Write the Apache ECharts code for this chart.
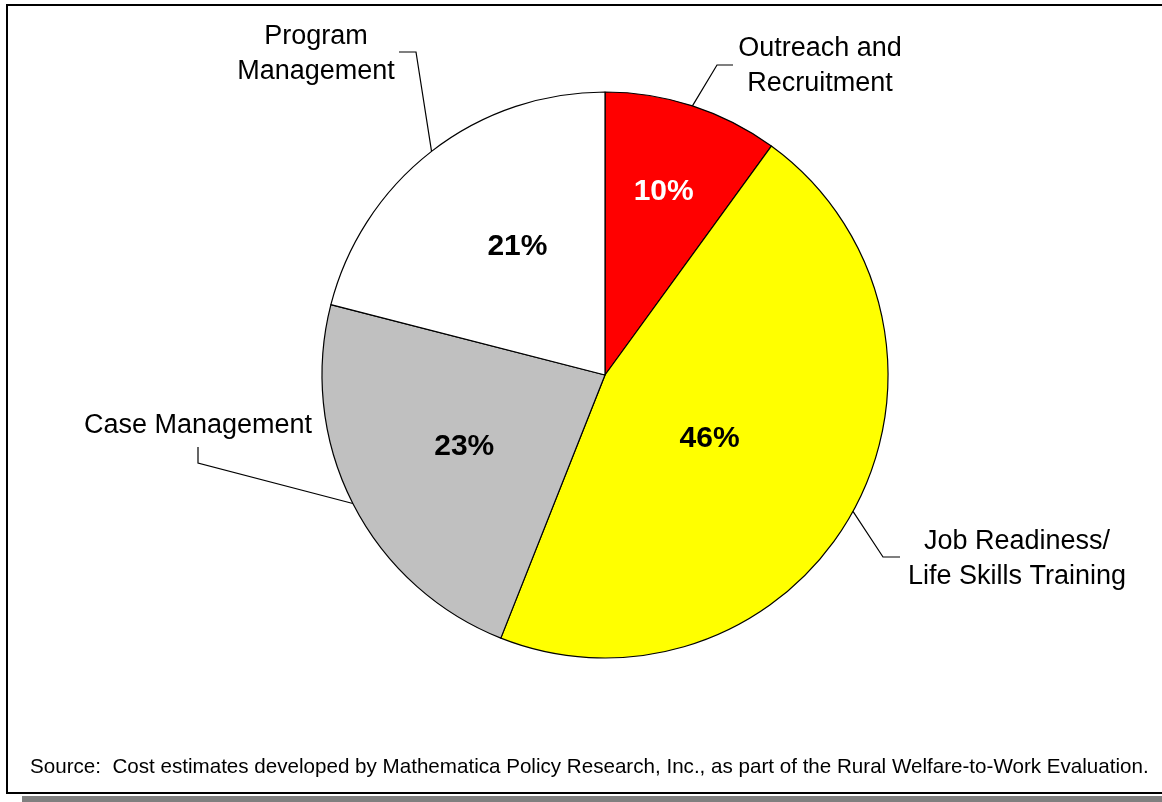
<!DOCTYPE html>
<html>
<head>
<meta charset="utf-8">
<script src="https://cdn.jsdelivr.net/npm/echarts@6/dist/echarts.min.js"></script>
<style>
html,body{margin:0;padding:0;background:#fff;}
#chart{width:1162px;height:802px;}
</style>
</head>
<body>
<div id="chart"></div>
<script>
// ---- data ----
var categories = ['Outreach and\nRecruitment', 'Job Readiness/\nLife Skills Training', 'Case Management', 'Program\nManagement'];
var shares = [10, 46, 23, 21];
var sliceColors = ['#FF0000', '#FFFF00', '#C0C0C0', '#FFFFFF'];
var pctColors = ['#FFFFFF', '#000000', '#000000', '#000000'];
var sourceNote = 'Source:  Cost estimates developed by Mathematica Policy Research, Inc., as part of the Rural Welfare-to-Work Evaluation.';

// ---- layout (positions, not data) ----
var FONT = '"Liberation Sans", Arial, sans-serif';
var pieCenter = [605, 375];
var pieRadius = 283;
// offsets of percent labels from default inside position
var pctOffsets = [[14, -46], [-22, -6], [-12, 6], [1, -14]];
// outer label centres and leader line bend/end points
var outerLabelPos = [[820, 66], [1017, 559], [198, 426], [316, 54]];
var leaderBend = [[[717, 65], [733, 65]], [[883, 557], [900, 557]], [[198, 463], [198, 447]], [[416, 52], [399, 52]]];

var sliceData = categories.map(function (c, i) {
  return { name: c, value: shares[i], itemStyle: { color: sliceColors[i] },
           label: { color: pctColors[i] } };
});
var outerData = categories.map(function (c, i) {
  return { name: c, value: shares[i] };
});

var chart = echarts.init(document.getElementById('chart'), null, { renderer: 'canvas' });
chart.setOption({
  backgroundColor: '#fff',
  animation: false,
  graphic: [
    { type: 'rect', shape: { x: 22, y: 796, width: 1140, height: 6 }, style: { fill: '#808080' }, z: 0 },
    { type: 'rect', shape: { x: 7, y: 5, width: 1160, height: 788 }, style: { fill: '#fff', stroke: '#000', lineWidth: 2 }, z: 0 },
    { type: 'text', x: 30, y: 767, style: { text: sourceNote, font: '20.6px ' + FONT, fill: '#000', verticalAlign: 'middle' }, z: 10 }
  ],
  series: [
    {
      type: 'pie',
      center: pieCenter,
      radius: pieRadius,
      startAngle: 90,
      clockwise: true,
      silent: true,
      z: 2,
      itemStyle: { borderColor: '#000', borderWidth: 1.2 },
      label: {
        show: true, position: 'inside',
        formatter: function (p) { return p.value + '%'; },
        fontFamily: FONT, fontSize: 30, fontWeight: 'bold'
      },
      labelLine: { show: false },
      labelLayout: function (p) {
        var o = pctOffsets[p.dataIndex];
        return { dx: o[0], dy: o[1] };
      },
      data: sliceData
    },
    {
      type: 'pie',
      center: pieCenter,
      radius: pieRadius,
      startAngle: 90,
      clockwise: true,
      silent: true,
      z: 3,
      itemStyle: { color: 'rgba(0,0,0,0)', borderWidth: 0 },
      label: {
        show: true, position: 'outside',
        formatter: '{b}',
        fontFamily: FONT, fontSize: 27, lineHeight: 35, color: '#000', align: 'center'
      },
      labelLine: { show: true, lineStyle: { color: '#000', width: 1.2 }, length: 20, length2: 20 },
      labelLayout: function (p) {
        var i = p.dataIndex;
        var pos = outerLabelPos[i];
        var start = p.labelLinePoints ? p.labelLinePoints[0] : pos;
        return {
          x: pos[0], y: pos[1], align: 'center', verticalAlign: 'middle',
          labelLinePoints: [start, leaderBend[i][0], leaderBend[i][1]]
        };
      },
      data: outerData
    }
  ]
});
</script>
</body>
</html>
